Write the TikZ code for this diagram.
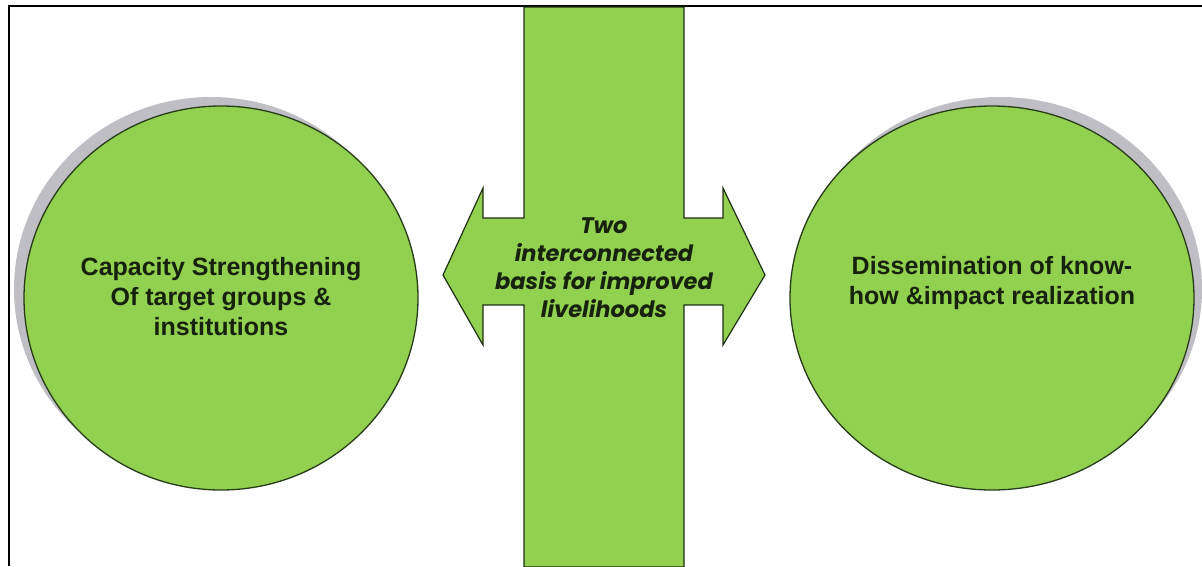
\documentclass[tikz,border=0pt]{standalone}
\usepackage{fontspec}
\setmainfont{Liberation Sans}
\newfontfamily\gothic{Poppins}
\begin{document}
\definecolor{leaf}{RGB}{146,208,80}
\definecolor{shade}{RGB}{190,190,196}
\definecolor{ink}{RGB}{22,34,12}
\definecolor{rim}{RGB}{40,60,25}
\begin{tikzpicture}[x=1pt,y=-1pt,
  disc/.style={fill=leaf,draw=rim,line width=1.3pt},
  discshadow/.style={fill=shade,draw=none},
  bartext/.style={font=\gothic\bfseries\itshape\fontsize{22.5}{28}\selectfont,text=ink,align=center},
  disctext/.style={font=\bfseries\fontsize{25}{30}\selectfont,text=ink,align=center}]
\useasboundingbox (0,0) rectangle (1202,566);
\fill[white] (0,0) rectangle (1202,566);
% frame
\draw[line width=2.2pt,black] (9,566) -- (9,6) -- (1202,6);
% left circle
\fill[discshadow] (211,289) ellipse [x radius=197,y radius=192];
\draw[disc] (221,298) ellipse [x radius=197,y radius=192];
\node[disctext] (cap) at (221,297) {Capacity Strengthening\\Of target groups \&\\institutions};
% right circle
\fill[discshadow] (1000,289) ellipse [x radius=202,y radius=192];
\draw[disc] (992,298) ellipse [x radius=202,y radius=192];
\node[disctext] (dis) at (992,283) {Dissemination of know-\\how \&impact realization};
% bar with double arrow
\draw[fill=leaf,draw=rim!80!black,line width=1.2pt,line join=miter]
  (524,7) -- (524,218) -- (483,218) -- (483,188) -- (443,275) -- (483,345)
  -- (483,305) -- (524,305) -- (524,567) -- (684,567) -- (684,305) -- (723,305)
  -- (723,345) -- (765,275) -- (723,188) -- (723,218) -- (684,218) -- (684,7) -- cycle;
\node[bartext] (basis) at (604,268) {Two\\interconnected\\basis for improved\\livelihoods};
\end{tikzpicture}
\end{document}
